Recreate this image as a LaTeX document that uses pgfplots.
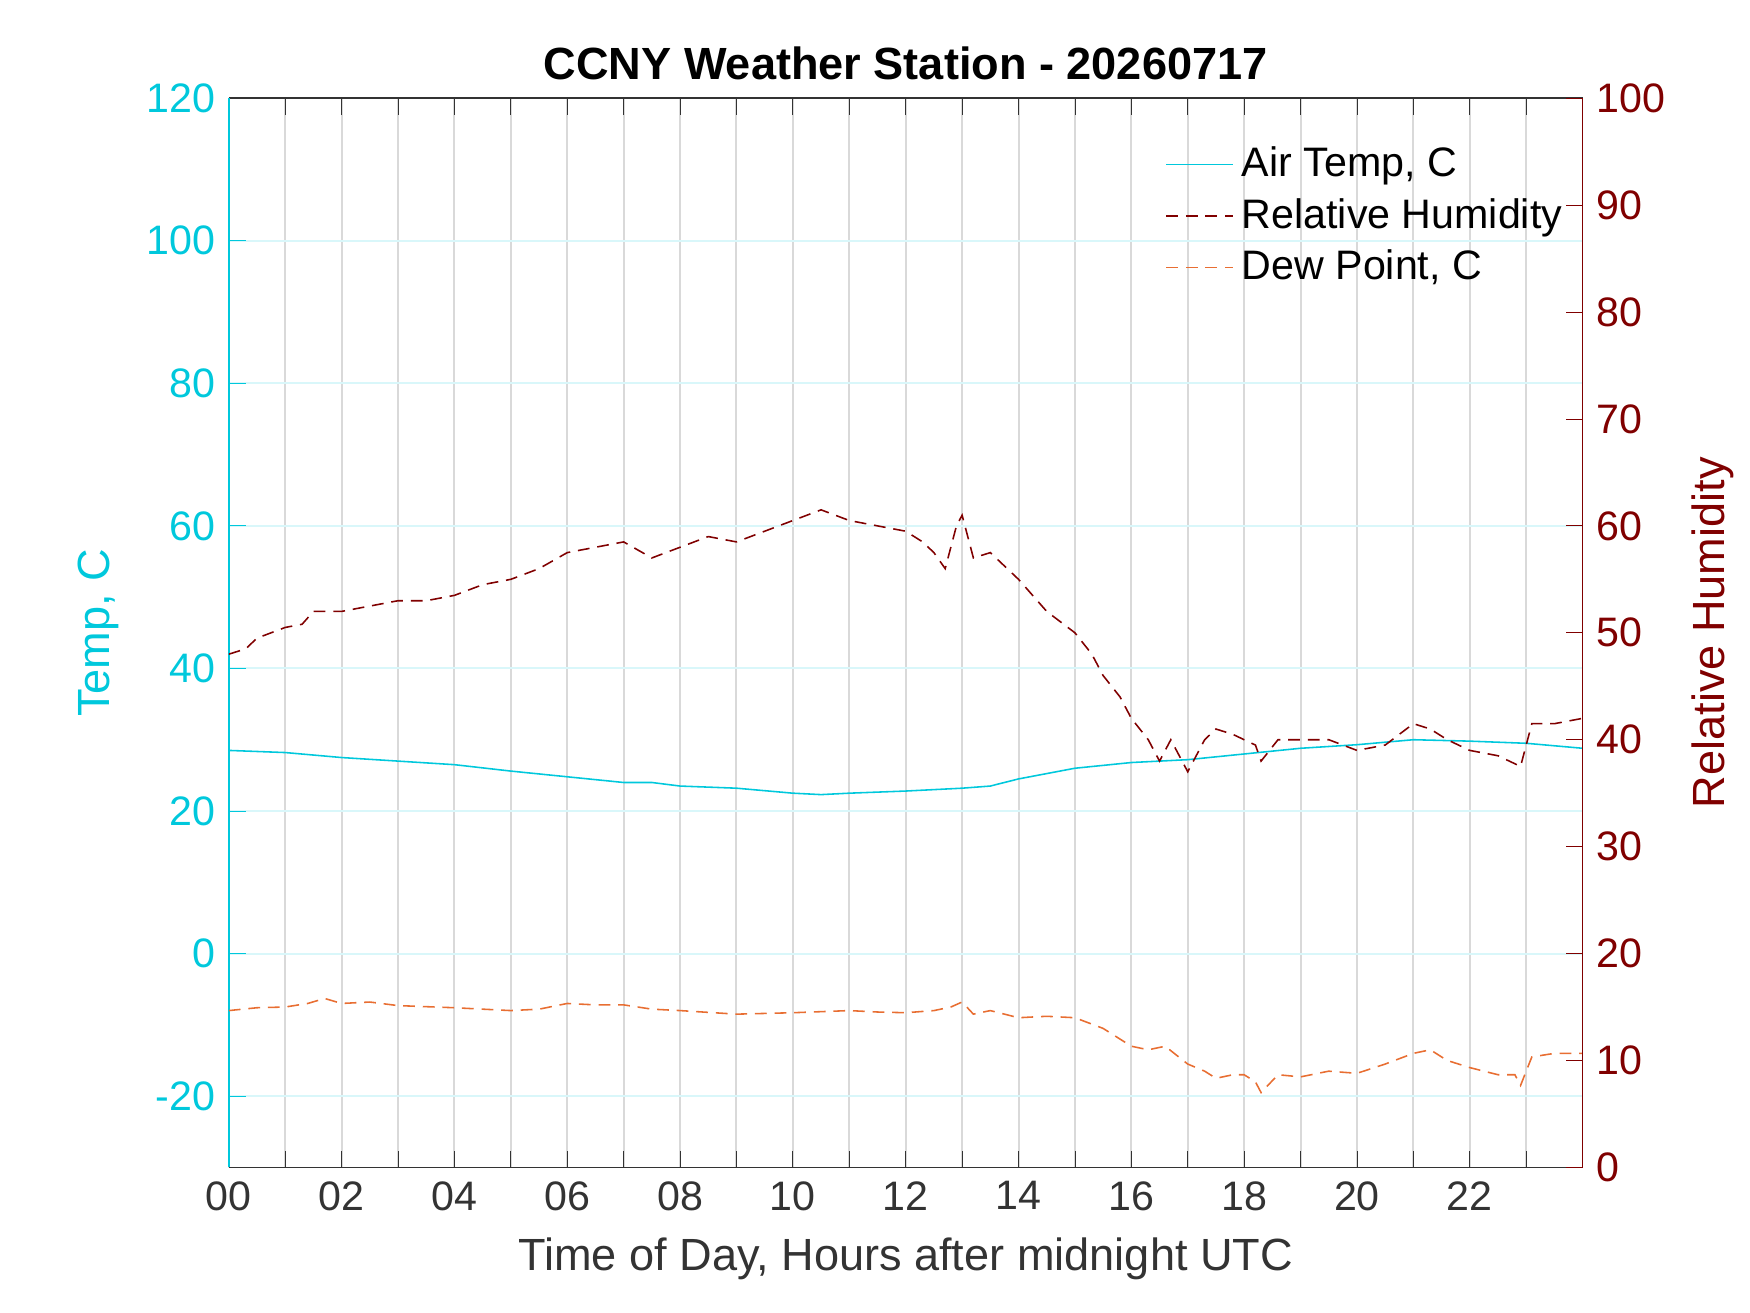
\documentclass[border=0pt]{standalone}
\usepackage{pgfplots}
\pgfplotsset{compat=1.18}
\usepackage{fontspec}
\setmainfont{Liberation Sans}
\definecolor{cy}{RGB}{0,200,220}
\definecolor{dr}{RGB}{128,0,0}
\definecolor{og}{RGB}{232,110,50}
\begin{document}
\begin{tikzpicture}
\path[use as bounding box] (-2.05,-1.30) rectangle (13.63,10.46);
\pgfplotsset{every axis/.append style={scale only axis,width=12.13cm,height=9.58cm,xmin=0,xmax=24,
 tick align=inside, font=\fontsize{10.5}{12}\selectfont, /pgf/number format/assume math mode=true}}
\begin{axis}[axis y line*=left, axis x line*=box, ymin=-30,ymax=120,
 ytick={-20,0,...,120}, y axis line style={cy}, yticklabel style={cy}, ytick style={cy},
 xtick={0,1,...,23}, xticklabels={00,,02,,04,,06,,08,,10,,12,,14,,16,,18,,20,,22,},
 x axis line style={black!80}, xtick style={black!80},
 xmajorgrids, ymajorgrids, x grid style={gray!30,line width=0.5pt}, y grid style={cy!15,line width=0.5pt},
 ylabel={Temp, C}, ylabel style={cy,font=\fontsize{11.5}{13}\selectfont},
 xlabel={Time of Day, Hours after midnight UTC}, xlabel style={font=\fontsize{11.5}{13}\selectfont,color=black!80},
 xticklabel style={black!80},
 title={\bfseries CCNY Weather Station - 20260717}, title style={font=\fontsize{11.5}{13}\selectfont,yshift=-5pt},
 legend style={at={(1.0,0.97)},anchor=north east,draw=none,fill=none,font=\fontsize{10.5}{12}\selectfont},
 legend cell align=left]
\addplot[cy,thin] coordinates {(0,28.5)(1,28.2)(2,27.5)(3,27)(4,26.5)(5,25.6)(6,24.8)(7,24)(7.5,24)(8,23.5)(9,23.2)(10,22.5)(10.5,22.3)(11,22.5)(12,22.8)(13,23.2)(13.5,23.5)(14,24.5)(15,26)(16,26.8)(17,27.2)(18,28)(19,28.8)(20,29.3)(21,30)(22,29.8)(23,29.5)(24,28.8)};
\addlegendentry{Air Temp, C}
\addlegendimage{dr,densely dashed}
\addlegendentry{Relative Humidity}
\addplot[og,densely dashed,thin] coordinates {(0,-8)(0.5,-7.6)(1,-7.5)(1.4,-7)(1.7,-6.3)(2,-7)(2.5,-6.8)(3,-7.3)(4,-7.6)(5,-8)(5.5,-7.8)(6,-7)(6.5,-7.2)(7,-7.2)(7.5,-7.8)(8,-8)(9,-8.5)(10,-8.3)(11,-8)(11.5,-8.2)(12,-8.3)(12.5,-8)(12.8,-7.5)(13,-6.8)(13.2,-8.5)(13.5,-8)(14,-9)(14.5,-8.8)(15,-9)(15.5,-10.5)(16,-13)(16.3,-13.5)(16.6,-13)(17,-15.5)(17.3,-16.5)(17.5,-17.5)(17.8,-17)(18,-17)(18.2,-18)(18.3,-19.5)(18.6,-17)(19,-17.3)(19.5,-16.5)(20,-16.8)(20.5,-15.5)(21,-14)(21.3,-13.5)(21.6,-15)(22,-16)(22.5,-17)(22.8,-17)(22.9,-18.5)(23.1,-14.5)(23.5,-14)(24,-14)};
\addlegendentry{Dew Point, C}
\end{axis}
\begin{axis}[axis y line*=right, axis x line=none, ymin=0,ymax=100, ytick={0,10,...,100},
 y axis line style={dr}, yticklabel style={dr}, ytick style={dr},
 ylabel={Relative Humidity}, ylabel style={dr,font=\fontsize{11.5}{13}\selectfont}]
\addplot[dr,densely dashed,thin] coordinates {(0,48)(0.3,48.5)(0.5,49.5)(1,50.5)(1.3,50.8)(1.5,52)(2,52)(2.5,52.5)(3,53)(3.5,53)(4,53.5)(4.5,54.5)(5,55)(5.5,56)(6,57.5)(6.5,58)(7,58.5)(7.5,57)(8,58)(8.5,59)(9,58.5)(9.5,59.5)(10,60.5)(10.5,61.5)(11,60.5)(11.5,60)(12,59.5)(12.3,58.5)(12.5,57.5)(12.7,56)(12.9,60)(13,61)(13.2,57)(13.5,57.5)(14,55)(14.5,52)(15,50)(15.3,48)(15.5,46)(15.8,44)(16,42)(16.3,40)(16.5,38)(16.7,40)(17,37)(17.3,40)(17.5,41)(17.8,40.5)(18,40)(18.2,39.5)(18.3,38)(18.6,40)(19,40)(19.5,40)(20,39)(20.5,39.5)(21,41.5)(21.3,41)(21.6,40)(22,39)(22.5,38.5)(22.9,37.5)(23.1,41.5)(23.5,41.5)(24,42)};
\end{axis}
\end{tikzpicture}
\end{document}
